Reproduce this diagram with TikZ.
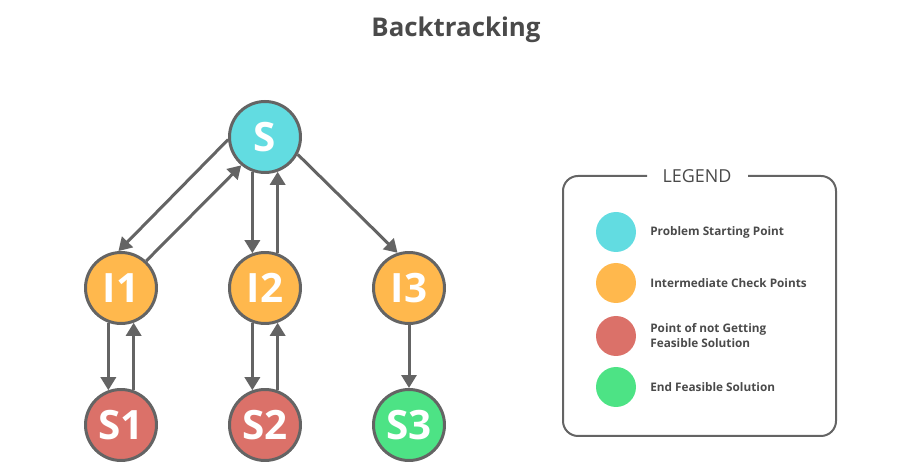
\documentclass[tikz,border=0pt]{standalone}
\usepackage{fontspec}
\setmainfont{Open Sans}
\usetikzlibrary{arrows.meta}
\definecolor{startcol}{HTML}{62DCE1}
\definecolor{checkcol}{HTML}{FFB84D}
\definecolor{failcol}{HTML}{DB7169}
\definecolor{endcol}{HTML}{4DE385}
\definecolor{linegray}{HTML}{646464}
\definecolor{textgray}{HTML}{4A4A4A}
\tikzstyle{vertex}=[circle,draw=linegray,line width=0.06cm,minimum size=1.42cm,inner sep=0pt,text=white,font=\fontsize{23}{23}\selectfont\bfseries]
\tikzstyle{edge} = [draw,linegray,line width=0.06cm,-{Triangle[length=0.26cm,width=0.3cm]}]
\tikzstyle{dot}=[circle,minimum size=0.8cm,inner sep=0pt]
\tikzstyle{legendtext} = [anchor=west,inner sep=0pt,align=left,text=textgray,font=\fontsize{6.7}{8.6}\selectfont\bfseries]

\begin{document}
\begin{tikzpicture}[x=0.02cm, y=-0.02cm]

  \useasboundingbox (0,0) rectangle (924,472);

  \node[text=textgray, font=\fontsize{14.7}{15}\selectfont\bfseries] (title) at (456,30) {Backtracking};

  % tree
  \foreach \x/\y/\name/\label/\col in { 265/137/S/S/startcol, 121/288/I1/I1/checkcol, 265/288/I2/I2/checkcol, 409/288/I3/I3/checkcol,
        121/425/S1/S1/failcol, 265/425/S2/S2/failcol, 409/425/S3/S3/endcol}
          \node[vertex, fill=\col] (\name) at (\x, \y) {\label};

  \foreach \source/ \dest in {S.184/I1.94, I1.47/S.230, S.250/I2.110, I2.70/S.290, S.332/I3.108,
        I1.250/S1.110, S1.70/I1.290, I2.250/S2.110, S2.70/I2.290, I3/S3}
         \path[edge] (\source) -- (\dest);

  % legend
  \draw[linegray, line width=0.04cm, rounded corners=0.3cm] (647,176) -- (563,176) -- (563,436) -- (836,436) -- (836,176) -- (748,176);
  \node[text=textgray, font=\fontsize{10.2}{11}\selectfont] (legend) at (697,176) {LEGEND};

  \foreach \y/\col/\name/\label in { 232/startcol/kstart/{Problem Starting Point}, 283/checkcol/kcheck/{Intermediate Check Points},
        336/failcol/kfail/{Point of not Getting\\Feasible Solution}, 387/endcol/kend/{End Feasible Solution}}
  {
          \node[dot, fill=\col] (\name) at (616, \y) {};
          \node[legendtext] (\name text) at (650, \y) {\label};
  }

\end{tikzpicture}
\end{document}
